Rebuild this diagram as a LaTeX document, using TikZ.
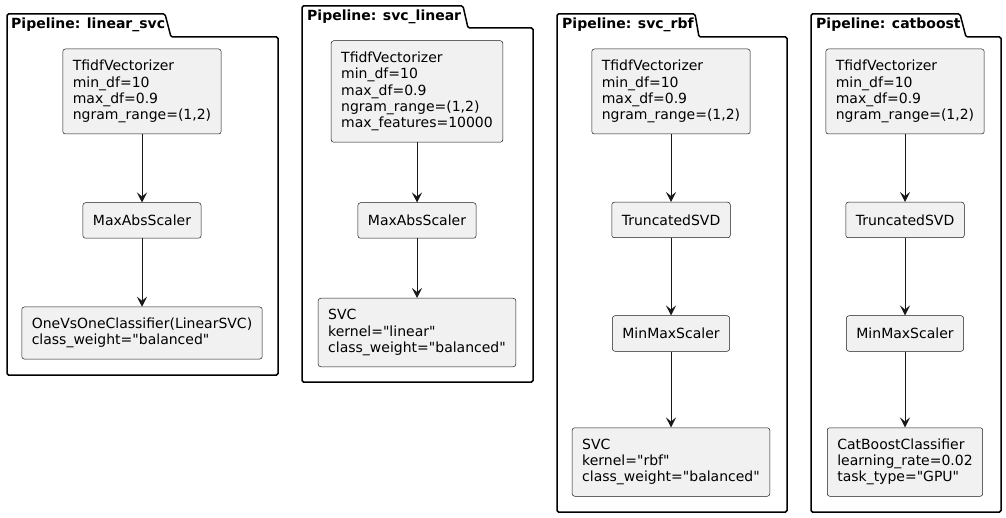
\documentclass[tikz,border=0pt]{standalone}
\usepackage{fontspec}
\setmainfont{DejaVu Sans}
\usetikzlibrary{arrows.meta}

\definecolor{StageFill}{RGB}{241,241,241}
\definecolor{StageLine}{RGB}{24,24,24}

\begin{document}
\begin{tikzpicture}[x=1pt, y=-1pt,
    stage/.style={draw=StageLine, line width=0.5pt, fill=StageFill, rounded corners=2.5pt, align=left,
        font=\fontsize{14}{16.3}\selectfont, inner xsep=10pt, inner ysep=0pt, minimum height={19pt+16.5pt*#1}},
    stage/.default=1,
    pipebox/.style={draw=black, line width=1.5pt, rounded corners=1.5pt},
    pipetitle/.style={anchor=base west, font=\bfseries\fontsize{14}{16}\selectfont, inner sep=0pt},
    flow/.style={-{Stealth[length=10pt, width=10pt, inset=4pt]}, StageLine, line width=1pt}]
\useasboundingbox (0,0) rectangle (1006,518);

                % Pipeline 1
                \draw[pipebox] (7,37) -- (7,14) -- (165,14) -- (171,37) -- (278,37) -- (278,375) -- (7,375) -- cycle;
                \node[pipetitle] (t1) at (11,29) {Pipeline: linear\_svc};
                \node[stage=4] (l1) at (142,91.5) {TfidfVectorizer\\min\_df=10\\max\_df=0.9\\ngram\_range=(1,2)};
                \node[stage] (l2) at (142,220.5) {MaxAbsScaler};
                \node[stage=2] (l3) at (142,333) {OneVsOneClassifier(LinearSVC)\\class\_weight=\textquotedbl balanced\textquotedbl};

                % Pipeline 2
                \draw[pipebox] (302,28) -- (302,6) -- (463,6) -- (468,28) -- (533,28) -- (533,382) -- (302,382) -- cycle;
                \node[pipetitle] (t2) at (307,21) {Pipeline: svc\_linear};
                \node[stage=5] (s1) at (417,91.5) {TfidfVectorizer\\min\_df=10\\max\_df=0.9\\ngram\_range=(1,2)\\max\_features=10000};
                \node[stage] (s2) at (417,220.5) {MaxAbsScaler};
                \node[stage=3] (s3) at (417,332.5) {SVC\\kernel=\textquotedbl linear\textquotedbl\\class\_weight=\textquotedbl balanced\textquotedbl};

                % Pipeline 3
                \draw[pipebox] (557,37) -- (557,14) -- (695,14) -- (699,37) -- (787,37) -- (787,512) -- (557,512) -- cycle;
                \node[pipetitle] (t3) at (562,29) {Pipeline: svc\_rbf};
                \node[stage=4] (r1) at (671,91.5) {TfidfVectorizer\\min\_df=10\\max\_df=0.9\\ngram\_range=(1,2)};
                \node[stage] (r2) at (671,220) {TruncatedSVD};
                \node[stage] (r3) at (671,333.5) {MinMaxScaler};
                \node[stage=3] (r4) at (671,462) {SVC\\kernel=\textquotedbl rbf\textquotedbl\\class\_weight=\textquotedbl balanced\textquotedbl};

                % Pipeline 4
                \draw[pipebox] (811,37) -- (811,14) -- (960,14) -- (966,37) -- (1001,37) -- (1001,512) -- (811,512) -- cycle;
                \node[pipetitle] (t4) at (816,29) {Pipeline: catboost};
                \node[stage=4] (c1) at (905,91.5) {TfidfVectorizer\\min\_df=10\\max\_df=0.9\\ngram\_range=(1,2)};
                \node[stage] (c2) at (905,220) {TruncatedSVD};
                \node[stage] (c3) at (905,333.5) {MinMaxScaler};
                \node[stage=3] (c4) at (905,462) {CatBoostClassifier\\learning\_rate=0.02\\task\_type=\textquotedbl GPU\textquotedbl};

                % Connecting lines
                \draw[flow] (l1) -- (l2);
                \draw[flow] (l2) -- (l3);
                \draw[flow] (s1) -- (s2);
                \draw[flow] (s2) -- (s3);
                \draw[flow] (r1) -- (r2);
                \draw[flow] (r2) -- (r3);
                \draw[flow] (r3) -- (r4);
                \draw[flow] (c1) -- (c2);
                \draw[flow] (c2) -- (c3);
                \draw[flow] (c3) -- (c4);
\end{tikzpicture}
\end{document}
